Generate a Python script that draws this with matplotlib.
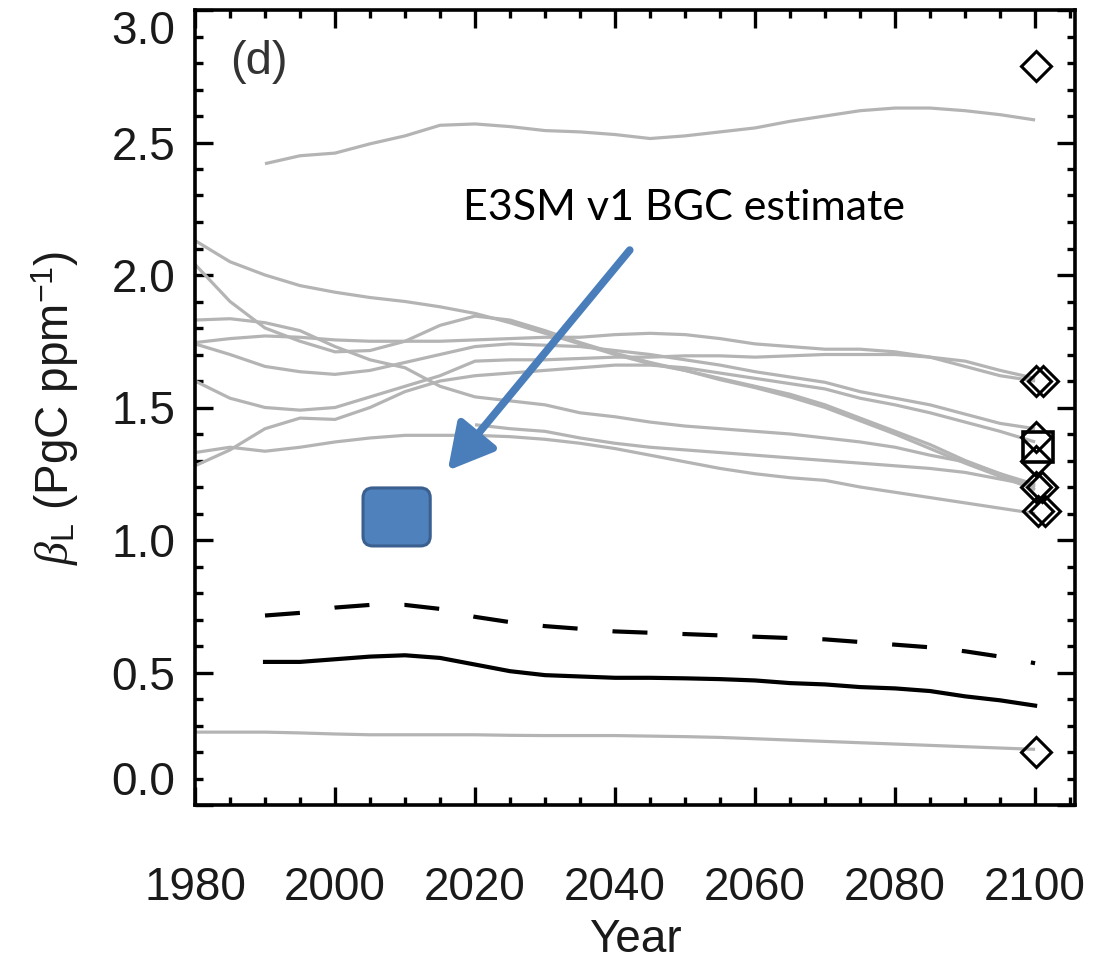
import numpy as np
import matplotlib
matplotlib.use("Agg")
from matplotlib import pyplot as plt
from matplotlib.patches import FancyBboxPatch
from matplotlib.ticker import MultipleLocator

# ==============================================
# Data
# ==============================================
years = np.arange(1980, 2101, 5)
nan = np.nan

# grey lines: individual models
model_a = [2.13, 2.05, 2.00, 1.96, 1.935, 1.915, 1.90, 1.88, 1.855, 1.82, 1.78, 1.74, 1.70,
           1.665, 1.64, 1.61, 1.58, 1.55, 1.51, 1.46, 1.41, 1.36, 1.30, 1.25, 1.20]
model_b = [2.04, 1.90, 1.80, 1.75, 1.71, 1.715, 1.75, 1.81, 1.845, 1.83, 1.79, 1.745, 1.705,
           1.67, 1.64, 1.605, 1.575, 1.54, 1.50, 1.45, 1.40, 1.345, 1.29, 1.24, 1.19]
model_c = [1.83, 1.835, 1.82, 1.79, 1.73, 1.68, 1.65, 1.58, 1.54, 1.525, 1.51, 1.48, 1.465,
           1.445, 1.43, 1.42, 1.41, 1.40, 1.385, 1.37, 1.35, 1.32, 1.295, 1.25, 1.21]
model_d = [1.745, 1.76, 1.77, 1.765, 1.755, 1.75, 1.75, 1.75, 1.755, 1.76, 1.765, 1.765, 1.775,
           1.78, 1.775, 1.76, 1.74, 1.73, 1.72, 1.72, 1.71, 1.69, 1.655, 1.62, 1.60]
model_e = [1.74, 1.70, 1.655, 1.635, 1.625, 1.64, 1.67, 1.70, 1.73, 1.74, 1.735, 1.73, 1.715,
           1.70, 1.68, 1.66, 1.635, 1.615, 1.595, 1.56, 1.535, 1.51, 1.475, 1.44, 1.42]
model_f = [1.60, 1.535, 1.50, 1.49, 1.50, 1.54, 1.58, 1.62, 1.675, 1.68, 1.68, 1.685, 1.69,
           1.69, 1.695, 1.695, 1.69, 1.695, 1.70, 1.70, 1.70, 1.69, 1.675, 1.64, 1.61]
model_g = [1.28, 1.34, 1.42, 1.46, 1.455, 1.50, 1.56, 1.60, 1.62, 1.63, 1.64, 1.65, 1.66,
           1.66, 1.65, 1.63, 1.61, 1.59, 1.57, 1.535, 1.51, 1.48, 1.445, 1.41, 1.37]
model_h = [1.33, 1.35, 1.335, 1.35, 1.37, 1.385, 1.395, 1.395, 1.395, 1.39, 1.38, 1.365, 1.345,
           1.32, 1.295, 1.27, 1.25, 1.235, 1.225, 1.20, 1.18, 1.16, 1.14, 1.12, 1.10]
model_i = [nan, nan, nan, nan, nan, nan, nan, nan, 1.435, 1.42, 1.41, 1.385, 1.365,
           1.35, 1.34, 1.33, 1.32, 1.31, 1.30, 1.29, 1.28, 1.27, 1.255, 1.23, 1.205]
model_top = [nan, nan, 2.42, 2.45, 2.46, 2.495, 2.525, 2.565, 2.57, 2.56, 2.545, 2.54, 2.53,
             2.515, 2.525, 2.54, 2.555, 2.58, 2.60, 2.62, 2.63, 2.63, 2.62, 2.605, 2.585]
model_low = [0.275, 0.275, 0.275, 0.272, 0.268, 0.265, 0.265, 0.265, 0.265, 0.263, 0.262, 0.262, 0.262,
             0.26, 0.258, 0.255, 0.25, 0.245, 0.24, 0.235, 0.23, 0.225, 0.22, 0.215, 0.21]
grey_models = [model_a, model_b, model_c, model_d, model_e, model_f, model_g,
               model_h, model_i, model_top, model_low]

# black lines
black_solid = [nan, nan, 0.54, 0.54, 0.55, 0.56, 0.565, 0.555, 0.53, 0.505, 0.49, 0.485, 0.48,
               0.48, 0.478, 0.475, 0.47, 0.46, 0.455, 0.445, 0.44, 0.43, 0.41, 0.395, 0.375]
black_dashed = [nan, nan, 0.715, 0.725, 0.745, 0.755, 0.755, 0.74, 0.71, 0.69, 0.675, 0.665, 0.655,
                0.65, 0.645, 0.64, 0.635, 0.63, 0.625, 0.615, 0.605, 0.595, 0.58, 0.56, 0.535]

# end-of-century symbols
diamond_years = [2100.2, 2100.2, 2101.2, 2100.2, 2100.2, 2100.2, 2101.0, 2100.4, 2101.4, 2100.2]
diamond_vals = [2.79, 1.60, 1.60, 1.39, 1.30, 1.20, 1.20, 1.11, 1.11, 0.20]
square_years = [2100.4]
square_vals = [1.35]

# E3SM estimate
e3sm_year = 2008.8
e3sm_beta = 1.087
e3sm_label = "E3SM v1 BGC estimate"

# ==============================================
# Plot
# ==============================================
plt.rcParams['font.family'] = ['Liberation Sans', 'DejaVu Sans']
plt.rcParams['mathtext.fontset'] = 'custom'
plt.rcParams['mathtext.rm'] = 'Liberation Sans'
plt.rcParams['mathtext.it'] = 'Liberation Serif:italic'

fig = plt.figure(figsize=(11.09, 9.65), dpi=100)
ax = fig.add_axes([195 / 1109, 160 / 965, 880 / 1109, 795 / 965])

grey = '#b4b4b4'
for vals in grey_models:
    ax.plot(years, vals, color=grey, lw=2.3, solid_capstyle='butt')

ax.plot(years, black_solid, color='black', lw=3)
dash_line, = ax.plot(years, black_dashed, color='black', lw=3)
dash_line.set_dashes((8.4, 8.4))

ax.plot(diamond_years, diamond_vals, ls='none', marker='D', ms=15,
        mfc='none', mec='black', mew=2.2)
ax.plot(square_years, square_vals, ls='none', marker='s', ms=21,
        mfc='none', mec='black', mew=2.6)

# E3SM box + arrow + label
box_w, box_h = 9.6, 0.219
box = FancyBboxPatch((e3sm_year - box_w / 2, e3sm_beta - box_h / 2), box_w, box_h,
                     boxstyle='round,pad=0,rounding_size=1.4', mutation_aspect=0.0264,
                     fc='#4f81bd', ec='#3b5f8f', lw=2.2, zorder=5)
ax.add_patch(box)
ax.annotate('', xy=(2016.1, 1.262), xytext=(2042.1, 2.094),
            arrowprops=dict(arrowstyle='-|>,head_length=0.55,head_width=0.3',
                            color='#4a7ebb', lw=5.5, mutation_scale=50,
                            shrinkA=0, shrinkB=0), zorder=6)
ax.text(2049.9, 2.253, e3sm_label, fontsize=31, family=['Lato', 'DejaVu Sans'],
        ha='center', va='center', color='black')

ax.text(0.04, 0.935, '(d)', transform=ax.transAxes, fontsize=34,
        color='#333333', ha='left', va='center')

# axes styling
ax.set_xlim(1980, 2105.7)
ax.set_ylim(0, 3.0)
ax.xaxis.set_major_locator(MultipleLocator(20))
ax.xaxis.set_minor_locator(MultipleLocator(5))
ax.yaxis.set_minor_locator(MultipleLocator(0.1))
ax.set_yticks(np.arange(0, 3.01, 0.5))
ax.set_yticklabels(['0.0', '0.5', '1.0', '1.5', '2.0', '2.5', '3.0'])

ax.tick_params(which='both', direction='in', top=True, right=True,
               labelsize=33, labelcolor='#1a1a1a', width=2.4)
ax.tick_params(which='major', length=13)
ax.tick_params(which='minor', length=6)
ax.tick_params(axis='x', which='major', pad=44)
ax.tick_params(axis='y', which='major', pad=14)
for s in ax.spines.values():
    s.set_linewidth(2.6)

ylabs = ax.get_yticklabels()
ylabs[0].set_va('bottom')
ylabs[-1].set_va('top')

ax.set_xlabel('Year', fontsize=33, color='#1a1a1a', labelpad=6)
ax.set_ylabel(r'$\beta_{\rm L}$ (PgC ppm$^{-1}$)', fontsize=33, color='#1a1a1a', labelpad=22)

fig.savefig('out.png', dpi=100)
